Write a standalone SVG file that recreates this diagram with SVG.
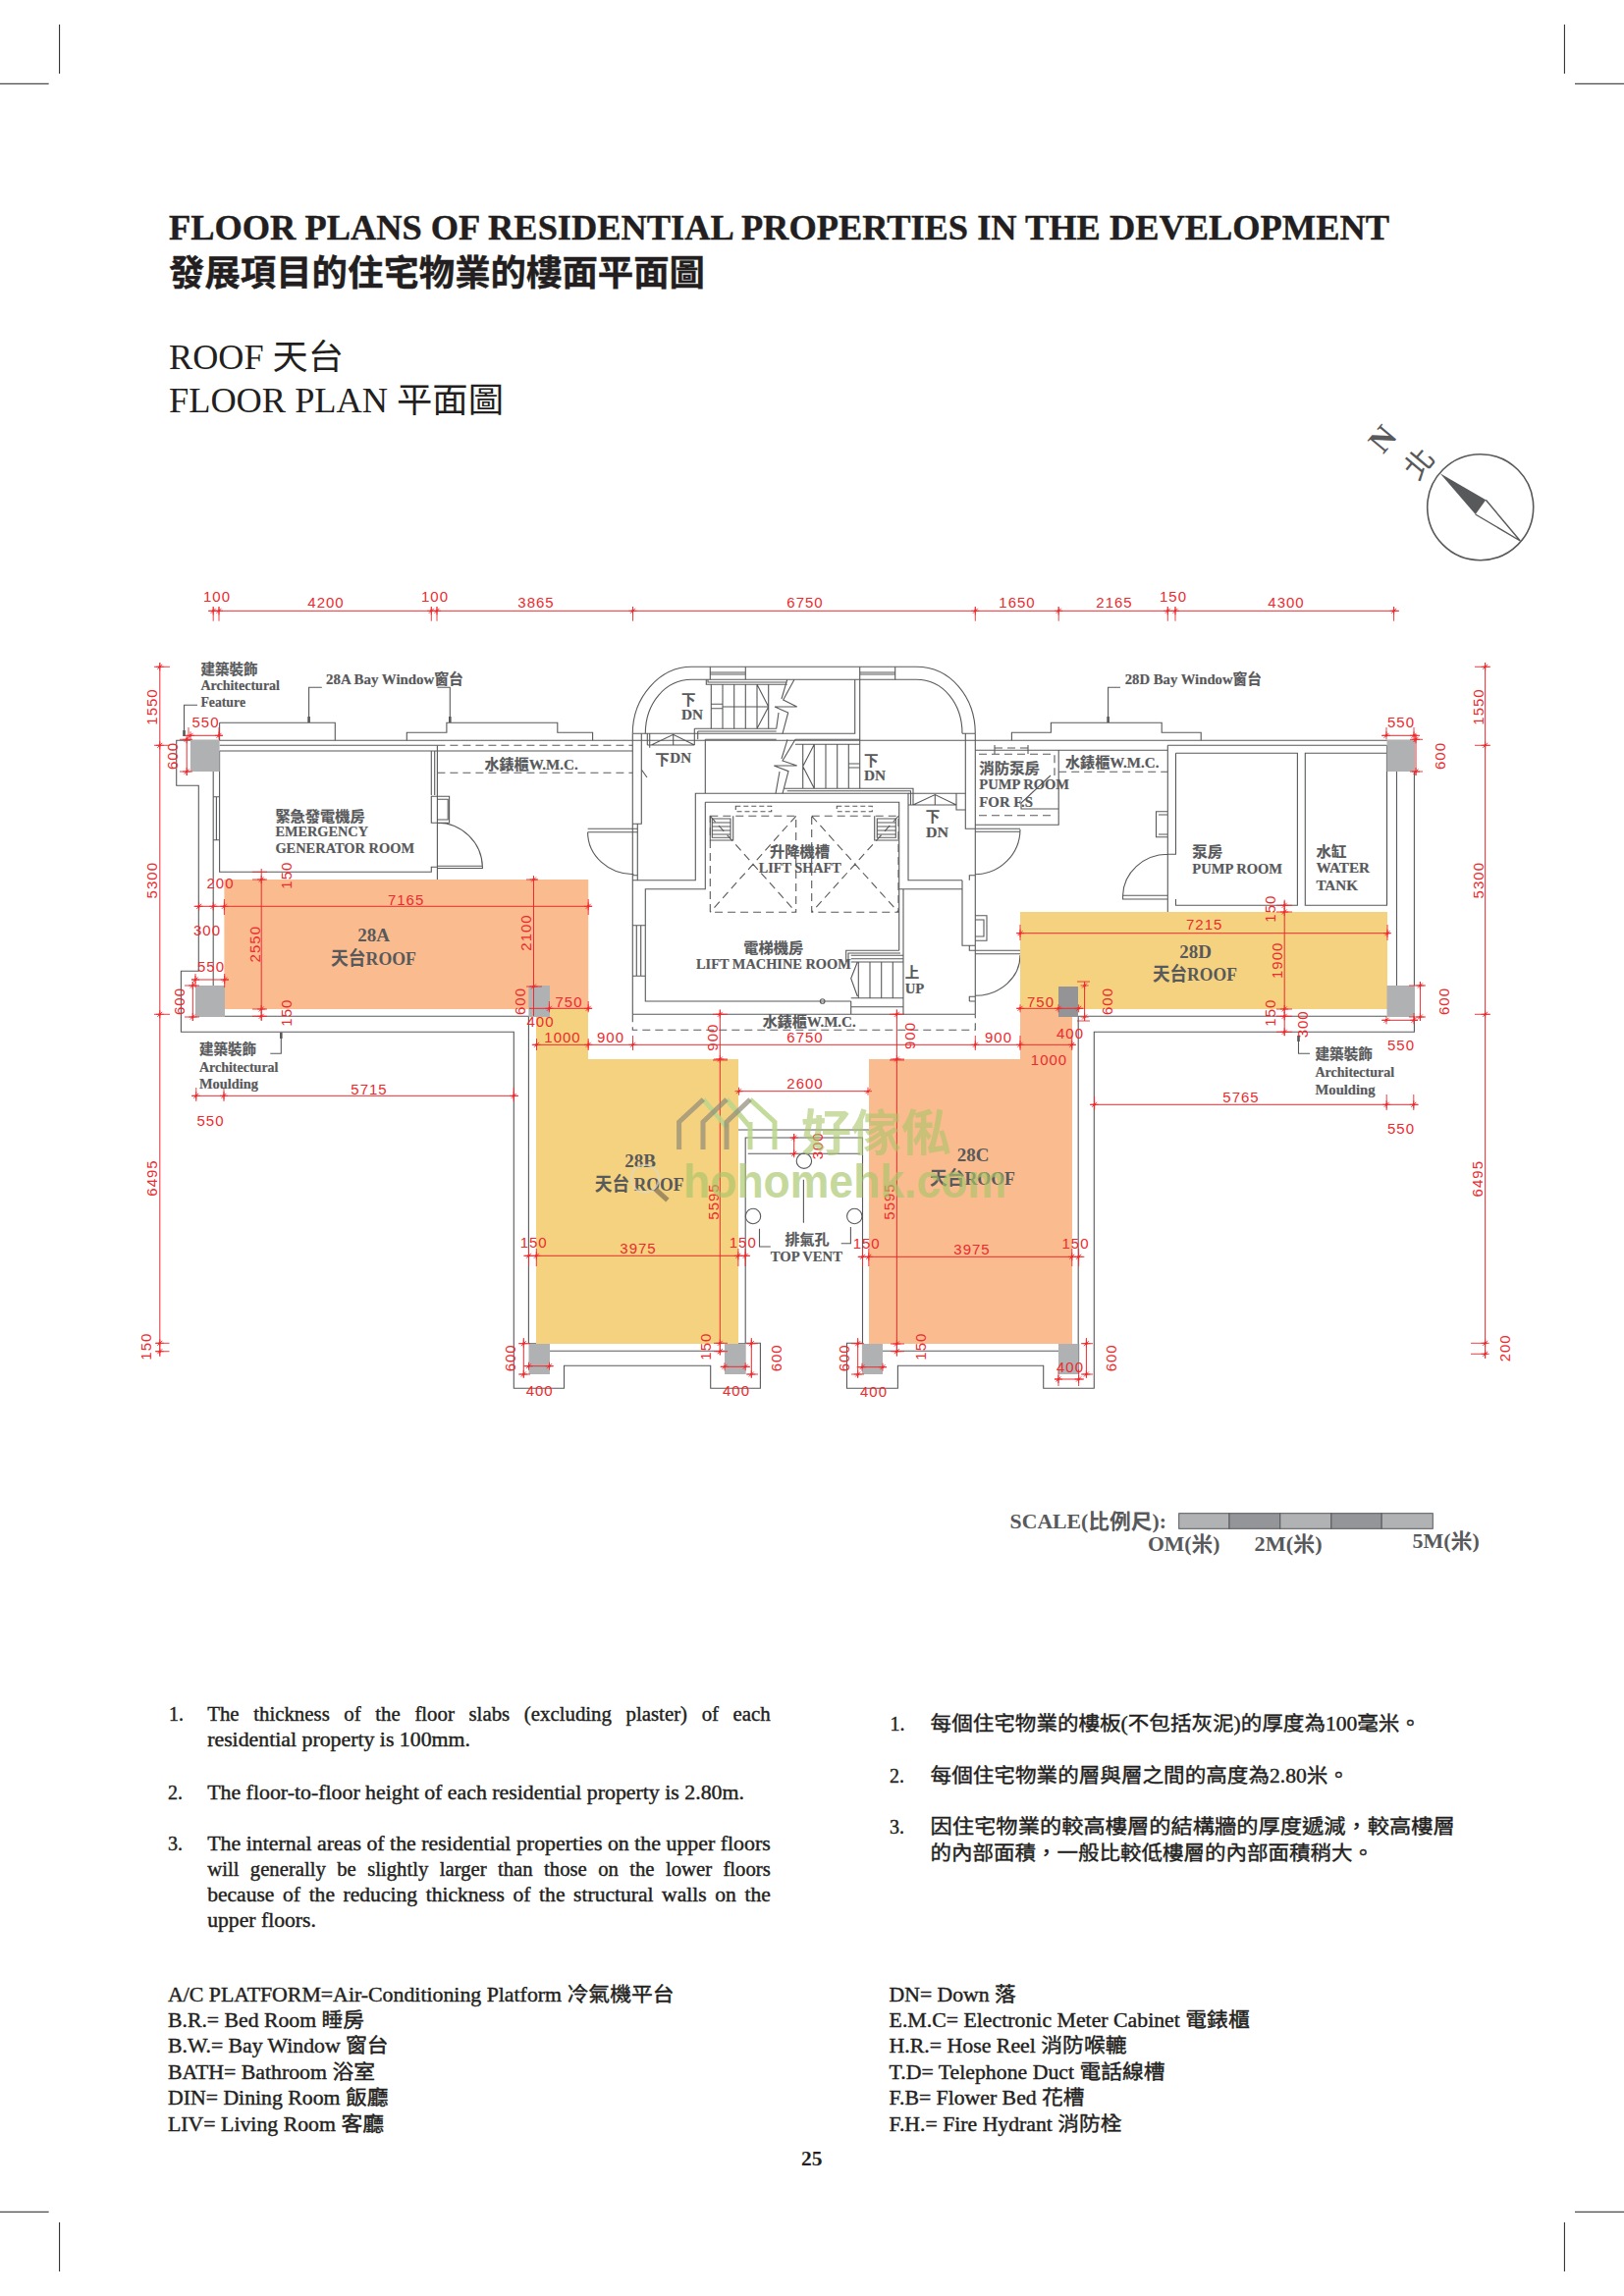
<svg xmlns="http://www.w3.org/2000/svg" width="1654" height="2339" viewBox="0 0 1654 2339">
<defs>
<style>
text{font-family:"Liberation Serif","Noto Sans CJK TC",serif}
.crop{stroke:#231f20;stroke-width:1;fill:none}
.w{stroke:#58595b;stroke-width:1.1;fill:none}
.das{stroke:#58595b;stroke-width:1.1;fill:none;stroke-dasharray:8 5}
.d{stroke:#ee2a2e;stroke-width:1;fill:none;marker-mid:url(#tk)}
.e{stroke:#ee2a2e;stroke-width:.9;fill:none}
.r{font-family:"Liberation Sans","Noto Sans",sans-serif;font-size:15px;letter-spacing:1px;fill:#ee2a2e;text-anchor:middle}
.l{font-size:14.5px;font-weight:700;fill:#58595b;stroke:#58595b;stroke-width:.2}
.c{font-size:19px;font-weight:700;fill:#58595b}
.n{font-size:19px;font-weight:700;fill:#58595b;text-anchor:middle}
.h{font-size:36px;font-weight:700;fill:#231f20;stroke:#231f20;stroke-width:.4}
.s{font-size:35px;fill:#231f20}
.b{font-size:20px;fill:#231f20;stroke:#231f20;stroke-width:.4}
.sc{font-size:21px;font-weight:700;fill:#58595b}
.g{fill:#b0b1b3}
.o{fill:#fabc8e}
.y{fill:#f5d27f}
</style>
<marker id="tk" markerUnits="userSpaceOnUse" markerWidth="12" markerHeight="12" refX="0" refY="0" overflow="visible" orient="0">
<path d="M-4 0H4M0-4V4M-2.5 2.5L2.5-2.5" stroke="#ee2a2e" stroke-width=".9" fill="none"/><circle r="1.3" fill="#ee2a2e"/>
</marker>
<marker id="dot" markerUnits="userSpaceOnUse" markerWidth="6" markerHeight="10" refX="0" refY="0" overflow="visible" orient="0">
<rect x="-1.3" y="-6" width="2.6" height="6" fill="#58595b"/>
</marker>
</defs>
<rect width="1654" height="2339" fill="#fff"/>

<g id="crop-marks" class="crop">
<path d="M60.6 25V75M0 85.3H49.7M1593.4 25V75M1604 85.3H1654M60.6 2264V2314M0 2253.3H49.7M1593.4 2264V2314M1604 2253.3H1654"/>
</g>

<g id="titles">
<text class="h" x="172" y="244" textLength="1243" lengthAdjust="spacingAndGlyphs">FLOOR PLANS OF RESIDENTIAL PROPERTIES IN THE DEVELOPMENT</text>
<text class="h" x="172" y="291" textLength="546" lengthAdjust="spacingAndGlyphs">發展項目的住宅物業的樓面平面圖</text>
<text class="s" x="172" y="376" textLength="178" lengthAdjust="spacingAndGlyphs">ROOF 天台</text>
<text class="s" x="172" y="420" textLength="341" lengthAdjust="spacingAndGlyphs">FLOOR PLAN 平面圖</text>
</g>

<g id="north">
<circle cx="1507.7" cy="516.7" r="54" fill="none" stroke="#58595b" stroke-width="1.6"/>
<path d="M1466.7 482.3L1513.3 509.3L1502.7 524Z" fill="#58595b"/>
<path d="M1513.3 509.3L1548.3 551L1502.7 524" fill="none" stroke="#58595b" stroke-width="1.4"/>
<text transform="translate(1408,447) rotate(-50)" x="0" y="11" text-anchor="middle" font-size="33" font-weight="700" fill="#58595b">N</text>
<text transform="translate(1445,472) rotate(-50)" x="0" y="11" text-anchor="middle" font-size="30" fill="#58595b">北</text>
</g>

<g id="plan-walls">
<path class="w" d="M179.7 754.3H1440.4V1051.3H1114.3V1414.3H1062.7V1391.3H914.4V1414.3H862.5V1368.3H878.5V1159H759.2V1368.3H774.4V1414.3H723.7V1391.3H574.5V1414.3H523.3V1051.3H184.4V989.3H202.3V800.3H179.7Z"/>
<path class="w" d="M223.6 759.3H445.4M223.6 765H644.3M217.2 786V1004M223.6 765V888.3H439.3V883.3H445.4M229 1035.3H538.4V1368.7M560 1376.3H738M761.8 1175.3H876M752 1151H885M899 1376.3H1078M1098.2 1035.3V1369M1098.2 1035.3H1412.5M1422.5 786V1004M1412.5 759.3V922"/>
<path class="das" d="M445.4 759.3H644.3M445.4 787.3H644.3M644.3 1033.3V1049.3H993.3V1033.3"/>
<path class="w" d="M217.2 811.7H223.6M217.2 855.7H223.6M220.4 811.7V855.7M445.4 759.3V896M439.3 765V810M442.7 765V810M439.3 811.3H457.6V838.3H439.3ZM445.4 814.3H456.2V835H445.4M445.4 838.3A46 46 0 0 1 491.4 883.3V884.5H445.4M445.4 882.3H491.4M598.6 844.3H649M598.6 847.7H649M598.6 847.7A47 43 0 0 0 645.5 890.7"/>
<path class="w" d="M223.6 736.3H341.3V754.3M414.3 754.3V746.3H454.9V736.3H567.8V746.3H603.6V754.3M223.6 736.3V754.3M1030.4 754.3V746.3H1070.4V736.3H1183.2V746.3H1223.2V754.3"/>
<path class="w" d="M644.3 747.3C644.3 710 672 679.3 704.3 679.3H933.3C968 679.3 993.3 710 993.3 747.3M657.3 747.3C657.3 716 678 692.3 704.3 692.3H933.3C960 692.3 980 716 980 747.3"/>
<path class="w" d="M723.3 679.3V692.3M759.3 679.3V692.3M723.3 685H759.3M723.3 687H759.3M875.7 679.3V692.3M911.7 679.3V692.3M875.7 685H911.7M875.7 687H911.7"/>
<path class="w" d="M644.3 747.3V1033.3M653.3 747.3V839.3H644.3M649.3 839.3V896.7M644.3 891.7H649.3M649.3 896.7H708.3V808.3H925V896.7H980M718.3 753.3V808.3M718.3 817.3H915.7V968.3M718.3 817.3V905.7H657.3V1020H866.7M644.3 896.7H657.3M644.3 942.7H657.3M644.3 994.3H657.3M648.3 942.7V994.3M652.7 942.7V994.3M915.7 905.7H980M980 896.7V963.3H993.3M987.3 963.3V968.3H993.3M920 905.7V1033.3M866.7 1020V1033.3M644.3 1033.3H993.3M866.7 1025.7H920M993.3 747.3V1033.3M983.3 747.3V844.3H993.3M980 747.3H993.3M987.3 896.7V891.7H993.3M987.3 1020V1015.3H993.3M987.3 1020H993.3"/>
<path class="w" d="M719.3 692.3V697.3H801.7M721 692.3V695H801.7M724.3 697.3V742.3M736 697.3V742.3M747.7 697.3V742.3M759.3 697.3V742.3M771 697.3V742.3M782.7 697.3V742.3M724.3 717.3H736M724.3 721.7H736M736 720H782.7M771 697.3L782.7 720L771 742.3M809 692.3L797.7 713L811.7 720H789L802.7 726L797 747.3M801.7 692.3L796 712M793 726L790.7 742.3"/>
<path class="w" d="M644.3 747.3H870.7V692.3M875.7 692.3V803.3M707.3 742.3H790.7M710.7 745H790.7M707.3 742.3V759M710.7 745V753.3M718.3 753.3H790.7M810 753.3H875.7M659.3 759H707.3M659.3 747.3V759M663.3 759L685.7 748.3L707.3 759M685.7 748.3V759M653.3 784L659 792M661.7 747.3V761.7"/>
<path class="w" d="M810 758.3H875.7M817.7 758.3V803.3M829.3 758.3V803.3M841 758.3V803.3M852.7 758.3V803.3M864.3 758.3V803.3M864.3 778H875.7M864.3 782H875.7M829.3 758.3L817.7 780.7L829.3 803.3M810 753.3L797 775L811.7 780H788.3L803 785.7L797 808.3M802 753.3L796 773M794 786L790 808.3M799 803.3H930V820M801.7 805.7H927.5V820M930 820L952.3 809.5L974 820M952.3 809.5V820M925 820H974M925 808.3H983.3M974 808.3V825H983.3"/>
<path class="w" d="M723.3 831.3V856H746.7V831.3M725.3 834H744V853.3H725.3ZM725.3 838H744M725.3 842H744M725.3 846H744M725.3 850H744M890.7 831.3V856H915M893.3 834H912.3V853.3H893.3ZM893.3 838H912.3M893.3 842H912.3M893.3 846H912.3M893.3 850H912.3"/>
<path class="das" d="M723.3 831.3H810.7V929.3H723.3ZM826.7 831.3H915V929.3H826.7ZM723.3 831.3L810.7 929.3M810.7 831.3L723.3 929.3M826.7 831.3L915 929.3M915 831.3L826.7 929.3"/>
<path class="das" style="stroke-dasharray:5 3" d="M749.3 821.3H785.7V826.7H749.3ZM852.3 821.3H888.3V826.7H852.3Z"/>
<path class="w" d="M915.7 968.3H861.7V980M917 971H864V980M866.7 973.3H920M866.7 976.7H920M866.7 980H920M866.7 1016.7H920M874.3 980V1016.7M886 980V1016.7M897.7 980V1016.7M909.3 980V1016.7M873.3 980L866.7 996.7L873.3 1015"/>
<circle class="w" cx="837.7" cy="1020" r="2.3"/>
<path class="w" d="M993.3 844.3H1039M993.3 847.3H1039M993.3 890.7A46 46 0 0 0 1039 845M993.3 968.3H1039M993.3 971.7H1039M993.3 1014.3A46 41 0 0 0 1039 973"/>
<path class="w" d="M993.3 932.7H1005V958.3H993.3M993.3 937H1002V954H993.3"/>
<path class="w" d="M993.3 764.3H1189.3M1078.2 764.3V840.3H993.3M1013 759V768M1047 759V768M1189.3 759.3V929M1189.3 759.3H1412.5M1197.5 767.3H1321.4V922.3H1197.5V916M1197.5 767.3V870.3H1189.3M1329.3 767.3H1412.5V922.3H1329.3ZM1189.3 870.3A46 43 0 0 0 1143.6 912.3M1143.6 912.3H1189.3V916H1143.6ZM1177.5 826.7H1189.3V852.7H1177.5ZM1180 830H1189.3V850H1180M1070 790L1040 818V824H1078"/>
<path class="das" d="M1078.2 786.3H1189.3M997 768.3H1074V790M997 830.7H1074M1013 762H1047"/>
<path class="w" d="M560 1368.7H538.4M738 1368.7H759.2M878.5 1368.7V1400M1098.6 1369V1400"/>
<circle class="w" cx="818.9" cy="1182.7" r="7.7"/>
<circle class="w" cx="870.3" cy="1239" r="7.7"/>
<circle class="w" cx="767" cy="1239" r="7.7"/>
</g>

<g id="roof-areas">
<rect class="o" x="228.4" y="896" width="370.8" height="132"/>
<path class="y" d="M546 1028H599V1079H752V1369H546Z"/>
<path class="o" d="M1039 1028H1092V1369H885V1079H1039Z"/>
<rect class="y" x="1039" y="929" width="374" height="99"/>
</g>

<g id="piers">
<rect class="g" x="193.9" y="754" width="29.7" height="32"/>
<rect class="g" x="199" y="1004" width="30" height="32"/>
<rect class="g" x="538.4" y="1004" width="21.6" height="32"/>
<rect x="1078" y="1005" width="20" height="31" fill="#949497"/>
<rect class="g" x="1412.5" y="754" width="28.5" height="32"/>
<rect class="g" x="1412.5" y="1004" width="28.5" height="32"/>
<rect class="g" x="538.5" y="1369" width="21.5" height="31"/>
<rect class="g" x="738" y="1369" width="21.7" height="31"/>
<rect class="g" x="878" y="1369" width="21" height="31"/>
<rect class="g" x="1078" y="1369" width="20.6" height="31"/>
</g>

<g id="leaders">
<path class="w" marker-start="url(#dot)" d="M187.5 750V718.3H201"/>
<path class="w" marker-start="url(#dot)" d="M314.6 736V700.3H327.8"/>
<path class="w" marker-start="url(#dot)" d="M458.3 736V700.3H445.4"/>
<path class="w" marker-start="url(#dot)" d="M1128.6 736V700.3H1141"/>
<path class="w" marker-start="url(#dot)" d="M286.3 1058V1073.3H275.3"/>
<path class="w" marker-start="url(#dot)" d="M1322.5 1061V1073.3H1334"/>
<path class="w" d="M818.4 1201.7V1245.7M866.4 1250V1266.7H856.7M773.5 1251.7V1270H784.8"/>
</g>

<g id="dimensions">
<path class="e" d="M217.2 618V632.7M223 618V632.7M439.3 618V632.7M445 618V632.7M644.5 618V632.7M993.3 618V632.7M1078.2 618V632.7M1189.3 618V632.7M1197 618V632.7M1419.6 618V632.7"/>
<polyline class="d" points="212,622.3 217.2,622.3 223,622.3 439.3,622.3 445,622.3 644.5,622.3 993.3,622.3 1078.2,622.3 1189.3,622.3 1197,622.3 1419.6,622.3 1425,622.3"/>
<path class="e" d="M157 679.3H173M157 759.3H173M157 1033.3H173M158 1368.3H172.5M158 1376.7H172.5M1502 679.3H1518M1502 759.3H1518M1502 1033.3H1518M1498 1368.3H1515M1498 1379.3H1515"/>
<polyline class="d" points="162.8,675 162.8,679.3 162.8,759.3 162.8,1033.3 162.8,1368.3 162.8,1376.7 162.8,1382"/>
<polyline class="d" points="1512.6,675 1512.6,679.3 1512.6,759.3 1512.6,1033.3 1512.6,1368.3 1512.6,1379.3 1512.6,1384"/>
<path class="e" d="M228.4 916V932M599.2 916V932M183 753.3H196M183 786H196M192 751V741M223 751V741M1412 749V741M1440 749V741M199 992V1006M228.7 992V1006M188 1004H203M188 1036H203M257 888.3H272M257 896H272M257 1028H272M257 1035.3H272M536 896H548M536 1005H552M559.4 1020V1030M599.2 1020V1030M546.5 1058V1070M599.2 1058V1070M644.5 1055V1070M993.3 1055V1070M1039 1055V1070M1091.8 1055V1070M726 1033.3H741M726 1080H741M906 1033.3H921M906 1080H921M1300 922.3H1316M1300 929H1316M1300 1028H1316M1300 1035.3H1316M1300 1051.3H1316M1039 942V958M1413 942V958M1441 748V756M1440 1040V1032M1097 1000H1110M1097 1040H1110M1435 1004H1452M1435 1036H1452M1436 753.3H1449M1436 786H1449M199.8 1108V1122M228 1108V1122M523.3 1108V1122M1114.6 1117V1131M1412.2 1115V1131M1439.8 1115V1131M538.5 1272V1290M546.3 1272V1290M751.9 1272V1290M759.2 1272V1290M878.5 1272V1290M884.8 1272V1290M1091.8 1272V1290M1098.6 1272V1290M727 1079H741M727 1368.3H741M727 1376.7H741M907 1079H921M907 1369H921M907 1376.7H921M528 1368.7H540M528 1400H540M760 1368.7H772M760 1400H772M867 1368.7H880M867 1400H880M1101 1368.7H1113M1101 1400H1113M1078 1395V1412M1098.6 1395V1412"/>
<polyline class="d" points="197.6,923.3 202.7,923.3 217.2,923.3 228.4,923.3 599.2,923.3 603,923.3"/>
<polyline class="d" points="266.2,885 266.2,896 266.2,1028 266.2,1035.3 266.2,1040"/>
<polyline class="d" points="543.5,893 543.5,896 543.5,1005 543.5,1035"/>
<polyline class="d" points="190.2,751 190.2,753.3 190.2,786 190.2,790"/>
<polyline class="d" points="188,749.3 194,749.3 223,749.3 227,749.3"/>
<polyline class="d" points="195,998 199,998 228.7,998 233,998"/>
<polyline class="d" points="196.3,1000 196.3,1004 196.3,1036 196.3,1040"/>
<polyline class="d" points="539,1027.3 559.4,1027.3 599.2,1027.3 603,1027.3"/>
<polyline class="d" points="541.8,1064.3 546.5,1064.3 599.2,1064.3 644.5,1064.3 993.3,1064.3 1039,1064.3 1091.8,1064.3 1095.7,1064.3"/>
<polyline class="d" points="733.3,1028.3 733.3,1033.3 733.3,1079 733.3,1368.3 733.3,1376.7 733.3,1380"/>
<polyline class="d" points="913.4,1028.3 913.4,1033.3 913.4,1079 913.4,1369 913.4,1376.7 913.4,1381.7"/>
<polyline class="d" points="1035.7,1027.3 1039,1027.3 1078,1027.3 1098.6,1027.3 1103.6,1027.3"/>
<polyline class="d" points="1104.6,1000 1104.6,1004 1104.6,1036 1104.6,1040"/>
<polyline class="d" points="1035.7,950.7 1039,950.7 1413,950.7 1416,950.7"/>
<polyline class="d" points="1308.2,916.7 1308.2,922.3 1308.2,929 1308.2,1028 1308.2,1035.3 1308.2,1051.3 1308.2,1055"/>
<polyline class="d" points="1407,749.3 1412,749.3 1440,749.3 1446,749.3"/>
<polyline class="d" points="1442,748 1442,753.3 1442,786 1442,790"/>
<polyline class="d" points="1446.4,1000 1446.4,1004 1446.4,1036 1446.4,1040"/>
<polyline class="d" points="1407,1039.3 1412,1039.3 1440,1039.3 1444,1039.3"/>
<polyline class="d" points="1110,1125.3 1114.6,1125.3 1412.2,1125.3 1439.8,1125.3 1444.7,1125.3"/>
<polyline class="d" points="195,1116.3 199.8,1116.3 228,1116.3 523.3,1116.3 528,1116.3"/>
<polyline class="d" points="752,1111.7 752.5,1111.7 884,1111.7 885,1111.7"/>
<polyline class="d" points="533.3,1279.3 538.5,1279.3 546.3,1279.3 751.9,1279.3 759.2,1279.3 764,1279.3"/>
<polyline class="d" points="873.7,1280.3 878.5,1280.3 884.8,1280.3 1091.8,1280.3 1098.6,1280.3 1104.4,1280.3"/>
<polyline class="d" points="808.7,1155 808.7,1159 808.7,1175.3 808.7,1178"/>
<polyline class="d" points="533.3,1363 533.3,1368.7 533.3,1400 533.3,1403"/>
<polyline class="d" points="533.3,1391.7 538.5,1391.7 559.5,1391.7 563.6,1391.7"/>
<polyline class="d" points="765.3,1363 765.3,1368.7 765.3,1400 765.3,1403"/>
<polyline class="d" points="733.6,1392.3 738,1392.3 759.2,1392.3 764,1392.3"/>
<polyline class="d" points="873.7,1363 873.7,1368.7 873.7,1400 873.7,1403"/>
<polyline class="d" points="872.7,1392.7 878,1392.7 899,1392.7 903,1392.7"/>
<polyline class="d" points="1106.4,1363 1106.4,1368.7 1106.4,1400 1106.4,1403"/>
<polyline class="d" points="1074,1405 1078,1405 1098.6,1405 1104,1405"/>

<g transform="translate(1,0)">
<text class="r" x="220" y="613">100</text><text class="r" x="331" y="619">4200</text><text class="r" x="442" y="613">100</text><text class="r" x="545" y="619">3865</text>
<text class="r" x="819" y="619">6750</text><text class="r" x="1035" y="619">1650</text><text class="r" x="1134" y="619">2165</text><text class="r" x="1194" y="613">150</text><text class="r" x="1309" y="619">4300</text>
<text class="r" x="208.5" y="740.7">550</text><text class="r" x="223.5" y="905">200</text><text class="r" x="210" y="953.3">300</text><text class="r" x="412.6" y="921.7">7165</text><text class="r" x="214" y="990">550</text>
<text class="r" x="578.5" y="1026">750</text><text class="r" x="549.5" y="1046">400</text><text class="r" x="572" y="1061.7">1000</text><text class="r" x="621" y="1061.7">900</text><text class="r" x="819" y="1061.7">6750</text><text class="r" x="1016" y="1061.7">900</text>
<text class="r" x="1067.5" y="1085">1000</text><text class="r" x="1059" y="1026">750</text><text class="r" x="1089" y="1057.7">400</text><text class="r" x="1225.7" y="947.3">7215</text>
<text class="r" x="1426" y="740.7">550</text><text class="r" x="1426" y="1070">550</text><text class="r" x="1263" y="1123.3">5765</text><text class="r" x="1426" y="1155">550</text><text class="r" x="375" y="1115">5715</text><text class="r" x="213.5" y="1146.7">550</text>
<text class="r" x="819" y="1109.3">2600</text><text class="r" x="542.7" y="1271">150</text><text class="r" x="649" y="1276.7">3975</text><text class="r" x="755.8" y="1271">150</text><text class="r" x="881.7" y="1271.7">150</text><text class="r" x="989" y="1277.7">3975</text><text class="r" x="1094.5" y="1271.7">150</text>
<text class="r" x="548.7" y="1421.7">400</text><text class="r" x="749" y="1421.7">400</text><text class="r" x="889" y="1422.7">400</text><text class="r" x="1089" y="1398.3">400</text>
</g>

<text class="r" transform="translate(160.4,720) rotate(-90)">1550</text>
<text class="r" transform="translate(160.4,896.7) rotate(-90)">5300</text>
<text class="r" transform="translate(160.4,1200) rotate(-90)">6495</text>
<text class="r" transform="translate(153.9,1371.7) rotate(-90)">150</text>
<text class="r" transform="translate(180.7,770) rotate(-90)">600</text>
<text class="r" transform="translate(187.5,1020) rotate(-90)">600</text>
<text class="r" transform="translate(297.3,891.7) rotate(-90)">150</text>
<text class="r" transform="translate(297.3,1031.7) rotate(-90)">150</text>
<text class="r" transform="translate(264.5,961.7) rotate(-90)">2550</text>
<text class="r" transform="translate(541.4,950) rotate(-90)">2100</text>
<text class="r" transform="translate(534.7,1020) rotate(-90)">600</text>
<text class="r" transform="translate(730.7,1056.7) rotate(-90)">900</text>
<text class="r" transform="translate(931.7,1055) rotate(-90)">900</text>
<text class="r" transform="translate(1133.2,1020) rotate(-90)">600</text>
<text class="r" transform="translate(1299.3,925.7) rotate(-90)">150</text>
<text class="r" transform="translate(1306,978.3) rotate(-90)">1900</text>
<text class="r" transform="translate(1299.3,1031.7) rotate(-90)">150</text>
<text class="r" transform="translate(1332,1043.3) rotate(-90)">300</text>
<text class="r" transform="translate(1472,770) rotate(-90)">600</text>
<text class="r" transform="translate(1476,1020) rotate(-90)">600</text>
<text class="r" transform="translate(1510.7,720) rotate(-90)">1550</text>
<text class="r" transform="translate(1510.7,896.7) rotate(-90)">5300</text>
<text class="r" transform="translate(1510,1200.7) rotate(-90)">6495</text>
<text class="r" transform="translate(1537.8,1373.3) rotate(-90)">200</text>
<text class="r" transform="translate(731.9,1224) rotate(-90)">5595</text>
<text class="r" transform="translate(724,1371.7) rotate(-90)">150</text>
<text class="r" transform="translate(911,1224) rotate(-90)">5595</text>
<text class="r" transform="translate(943,1371.7) rotate(-90)">150</text>
<text class="r" transform="translate(837.8,1167.3) rotate(-90)">300</text>
<text class="r" transform="translate(524.6,1383.3) rotate(-90)">600</text>
<text class="r" transform="translate(795.6,1383.3) rotate(-90)">600</text>
<text class="r" transform="translate(864.5,1383.3) rotate(-90)">600</text>
<text class="r" transform="translate(1136.9,1383.3) rotate(-90)">600</text>
</g>

<g id="labels">
<text class="l" x="204.4" y="686.7" textLength="58" lengthAdjust="spacingAndGlyphs">建築裝飾</text>
<text class="l" x="204.4" y="703.3" textLength="80.6" lengthAdjust="spacingAndGlyphs">Architectural</text>
<text class="l" x="204.4" y="720" textLength="45.6" lengthAdjust="spacingAndGlyphs">Feature</text>
<text class="l" x="332" y="696.7" textLength="140" lengthAdjust="spacingAndGlyphs">28A Bay Window窗台</text>
<text class="l" x="1145.7" y="696.7" textLength="139.3" lengthAdjust="spacingAndGlyphs">28D Bay Window窗台</text>
<text class="l" x="280.4" y="836.7" textLength="91.3" lengthAdjust="spacingAndGlyphs">緊急發電機房</text>
<text class="l" x="280.4" y="852.3" textLength="94.6" lengthAdjust="spacingAndGlyphs">EMERGENCY</text>
<text class="l" x="280.4" y="869.3" textLength="141.6" lengthAdjust="spacingAndGlyphs">GENERATOR ROOM</text>
<text class="l" x="493.4" y="784.3" textLength="95.4" lengthAdjust="spacingAndGlyphs">水錶櫃W.M.C.</text>
<text class="l" x="1085" y="781.7" textLength="95.4" lengthAdjust="spacingAndGlyphs">水錶櫃W.M.C.</text>
<text class="l" x="776.7" y="1046" textLength="95" lengthAdjust="spacingAndGlyphs">水錶櫃W.M.C.</text>
<text class="l" x="694" y="717.7">下</text><text class="l" x="694" y="732.7" textLength="22" lengthAdjust="spacingAndGlyphs">DN</text>
<text class="l" x="667.3" y="779">下</text><text class="l" x="682.3" y="777.3" textLength="21.7" lengthAdjust="spacingAndGlyphs">DN</text>
<text class="l" x="880" y="780">下</text><text class="l" x="880" y="795" textLength="22" lengthAdjust="spacingAndGlyphs">DN</text>
<text class="l" x="942.7" y="837.3">下</text><text class="l" x="943" y="852.7" textLength="23" lengthAdjust="spacingAndGlyphs">DN</text>
<text class="l" x="784" y="873.3" textLength="61" lengthAdjust="spacingAndGlyphs">升降機槽</text>
<text class="l" x="772.7" y="889" textLength="84" lengthAdjust="spacingAndGlyphs">LIFT SHAFT</text>
<text class="l" x="757.3" y="970.7" textLength="61" lengthAdjust="spacingAndGlyphs">電梯機房</text>
<text class="l" x="709" y="986.7" textLength="157.7" lengthAdjust="spacingAndGlyphs">LIFT MACHINE ROOM</text>
<text class="l" x="921.7" y="996">上</text><text class="l" x="921.7" y="1011.7" textLength="19.6" lengthAdjust="spacingAndGlyphs">UP</text>
<text class="l" x="997.3" y="788.3" textLength="61.7" lengthAdjust="spacingAndGlyphs">消防泵房</text>
<text class="l" x="997.3" y="804" textLength="91.7" lengthAdjust="spacingAndGlyphs">PUMP ROOM</text>
<text class="l" x="997.3" y="821.7" textLength="54.7" lengthAdjust="spacingAndGlyphs">FOR F.S</text>
<text class="l" x="1214.3" y="873.3" textLength="31" lengthAdjust="spacingAndGlyphs">泵房</text>
<text class="l" x="1214.3" y="890" textLength="91.7" lengthAdjust="spacingAndGlyphs">PUMP ROOM</text>
<text class="l" x="1340.4" y="873.3" textLength="31" lengthAdjust="spacingAndGlyphs">水缸</text>
<text class="l" x="1340.4" y="889" textLength="54.6" lengthAdjust="spacingAndGlyphs">WATER</text>
<text class="l" x="1340.4" y="906.7" textLength="42.5" lengthAdjust="spacingAndGlyphs">TANK</text>
<text class="l" x="202.9" y="1074.3" textLength="58" lengthAdjust="spacingAndGlyphs">建築裝飾</text>
<text class="l" x="202.9" y="1091.7" textLength="80.6" lengthAdjust="spacingAndGlyphs">Architectural</text>
<text class="l" x="202.9" y="1109" textLength="60" lengthAdjust="spacingAndGlyphs">Moulding</text>
<text class="l" x="1339.5" y="1079" textLength="58.5" lengthAdjust="spacingAndGlyphs">建築裝飾</text>
<text class="l" x="1339.5" y="1097.3" textLength="80.6" lengthAdjust="spacingAndGlyphs">Architectural</text>
<text class="l" x="1339.5" y="1115" textLength="61" lengthAdjust="spacingAndGlyphs">Moulding</text>
<text class="l" x="799.5" y="1268.3" textLength="45" lengthAdjust="spacingAndGlyphs">排氣孔</text>
<text class="l" x="784.8" y="1285" textLength="73.2" lengthAdjust="spacingAndGlyphs">TOP VENT</text>
<text class="n" x="380.5" y="959">28A</text>
<text class="c" x="337" y="983.3" textLength="87" lengthAdjust="spacingAndGlyphs">天台ROOF</text>
<text class="n" x="1217.5" y="975.7">28D</text>
<text class="c" x="1173.9" y="999.3" textLength="86" lengthAdjust="spacingAndGlyphs">天台ROOF</text>
<text class="n" x="652" y="1189">28B</text>
<text class="c" x="605.7" y="1213" textLength="91" lengthAdjust="spacingAndGlyphs">天台 ROOF</text>
<text class="n" x="991" y="1183.3">28C</text>
<text class="c" x="946.9" y="1207" textLength="87" lengthAdjust="spacingAndGlyphs">天台ROOF</text>
</g>

<g id="watermark">
<g fill="none" stroke-width="5">
<path stroke="#b9d68a" opacity=".85" d="M716.3 1120L740 1148M740 1120L764 1148M764 1120L789 1143V1171M764 1143V1171"/>
<path stroke="#8f8a78" opacity=".7" d="M691.6 1171V1143L716.3 1120M716 1171V1143L740 1120M740 1171V1143L764 1120"/>
<path stroke="#8c7a5a" opacity=".8" d="M667.7 1211.7L679.9 1222.7"/>
<circle cx="656.9" cy="1200.7" r="14" stroke="#d9d9c8" stroke-width="2" opacity=".7"/>
</g>
<text x="816" y="1172" textLength="153" lengthAdjust="spacingAndGlyphs" font-size="50" font-weight="700" fill="#a9c56a" opacity=".6" style="font-family:'Noto Sans CJK TC',sans-serif">好傢俬</text>
<text x="696" y="1220" textLength="329" lengthAdjust="spacingAndGlyphs" font-size="48" font-weight="700" fill="#a9c56a" opacity=".65" style="font-family:'Liberation Sans',sans-serif">hohomehk.com</text>
</g>

<g id="scale">
<text class="sc" x="1028.6" y="1557" textLength="159.4" lengthAdjust="spacingAndGlyphs">SCALE(比例尺):</text>
<g stroke="#58595b" stroke-width="1">
<rect x="1200.7" y="1541.7" width="51.3" height="15.6" fill="#b1b2b4"/>
<rect x="1252" y="1541.7" width="51.8" height="15.6" fill="#939598"/>
<rect x="1303.8" y="1541.7" width="52.1" height="15.6" fill="#b1b2b4"/>
<rect x="1355.9" y="1541.7" width="51.3" height="15.6" fill="#939598"/>
<rect x="1407.2" y="1541.7" width="52.1" height="15.6" fill="#b1b2b4"/>
</g>
<text class="sc" x="1169" y="1580" textLength="73.4" lengthAdjust="spacingAndGlyphs">OM(米)</text>
<text class="sc" x="1277.6" y="1580" textLength="69" lengthAdjust="spacingAndGlyphs">2M(米)</text>
<text class="sc" x="1438.6" y="1577.3" textLength="68.3" lengthAdjust="spacingAndGlyphs">5M(米)</text>
</g>

<g id="notes-en">
<text class="b" x="172" y="1753.3">1.</text>
<text class="b" x="211.2" y="1753.3" textLength="573.6" lengthAdjust="spacingAndGlyphs" style="word-spacing:9px">The thickness of the floor slabs (excluding plaster) of each</text>
<text class="b" x="211.2" y="1779.3" textLength="267.8" lengthAdjust="spacingAndGlyphs">residential property is 100mm.</text>
<text class="b" x="171" y="1832.7">2.</text>
<text class="b" x="211.2" y="1832.7" textLength="546.8" lengthAdjust="spacingAndGlyphs">The floor-to-floor height of each residential property is 2.80m.</text>
<text class="b" x="171" y="1885">3.</text>
<text class="b" x="211.2" y="1885" textLength="573.6" lengthAdjust="spacingAndGlyphs">The internal areas of the residential properties on the upper floors</text>
<text class="b" x="211.2" y="1911" textLength="573.6" lengthAdjust="spacingAndGlyphs" style="word-spacing:6px">will generally be slightly larger than those on the lower floors</text>
<text class="b" x="211.2" y="1937" textLength="573.6" lengthAdjust="spacingAndGlyphs" style="word-spacing:3px">because of the reducing thickness of the structural walls on the</text>
<text class="b" x="211.2" y="1963.3" textLength="110.7" lengthAdjust="spacingAndGlyphs">upper floors.</text>
</g>

<g id="notes-zh">
<text class="b" x="906.6" y="1763.3">1.</text>
<text class="b" x="947.6" y="1763.3" textLength="499.4" lengthAdjust="spacingAndGlyphs">每個住宅物業的樓板(不包括灰泥)的厚度為100毫米。</text>
<text class="b" x="906" y="1815.7">2.</text>
<text class="b" x="947.6" y="1815.7" textLength="426.4" lengthAdjust="spacingAndGlyphs">每個住宅物業的層與層之間的高度為2.80米。</text>
<text class="b" x="906" y="1868.3">3.</text>
<text class="b" x="947.6" y="1868.3" textLength="534.2" lengthAdjust="spacingAndGlyphs">因住宅物業的較高樓層的結構牆的厚度遞減&#xFF0C;較高樓層</text>
<text class="b" x="947.6" y="1895" textLength="451.4" lengthAdjust="spacingAndGlyphs">的內部面積&#xFF0C;一般比較低樓層的內部面積稍大。</text>
</g>

<g id="legend">
<text class="b" x="171" y="2039.3" textLength="515.6" lengthAdjust="spacingAndGlyphs">A/C PLATFORM=Air-Conditioning Platform 冷氣機平台</text>
<text class="b" x="171" y="2065" textLength="200" lengthAdjust="spacingAndGlyphs">B.R.= Bed Room 睡房</text>
<text class="b" x="171" y="2091.3" textLength="224.5" lengthAdjust="spacingAndGlyphs">B.W.= Bay Window 窗台</text>
<text class="b" x="171" y="2117.7" textLength="211" lengthAdjust="spacingAndGlyphs">BATH= Bathroom 浴室</text>
<text class="b" x="171" y="2144.3" textLength="224.5" lengthAdjust="spacingAndGlyphs">DIN= Dining Room 飯廳</text>
<text class="b" x="171" y="2170.7" textLength="220" lengthAdjust="spacingAndGlyphs">LIV= Living Room 客廳</text>
<text class="b" x="905.6" y="2039.3" textLength="129.1" lengthAdjust="spacingAndGlyphs">DN= Down 落</text>
<text class="b" x="905.6" y="2065" textLength="367.1" lengthAdjust="spacingAndGlyphs">E.M.C= Electronic Meter Cabinet 電錶櫃</text>
<text class="b" x="905.6" y="2091.3" textLength="242" lengthAdjust="spacingAndGlyphs">H.R.= Hose Reel 消防喉轆</text>
<text class="b" x="905.6" y="2117.7" textLength="281" lengthAdjust="spacingAndGlyphs">T.D= Telephone Duct 電話線槽</text>
<text class="b" x="905.6" y="2144.3" textLength="199" lengthAdjust="spacingAndGlyphs">F.B= Flower Bed 花槽</text>
<text class="b" x="905.6" y="2170.7" textLength="236.9" lengthAdjust="spacingAndGlyphs">F.H.= Fire Hydrant 消防栓</text>
<text x="816" y="2206" font-size="20" font-weight="700" fill="#231f20" textLength="21.5" lengthAdjust="spacingAndGlyphs">25</text>
</g>
</svg>
